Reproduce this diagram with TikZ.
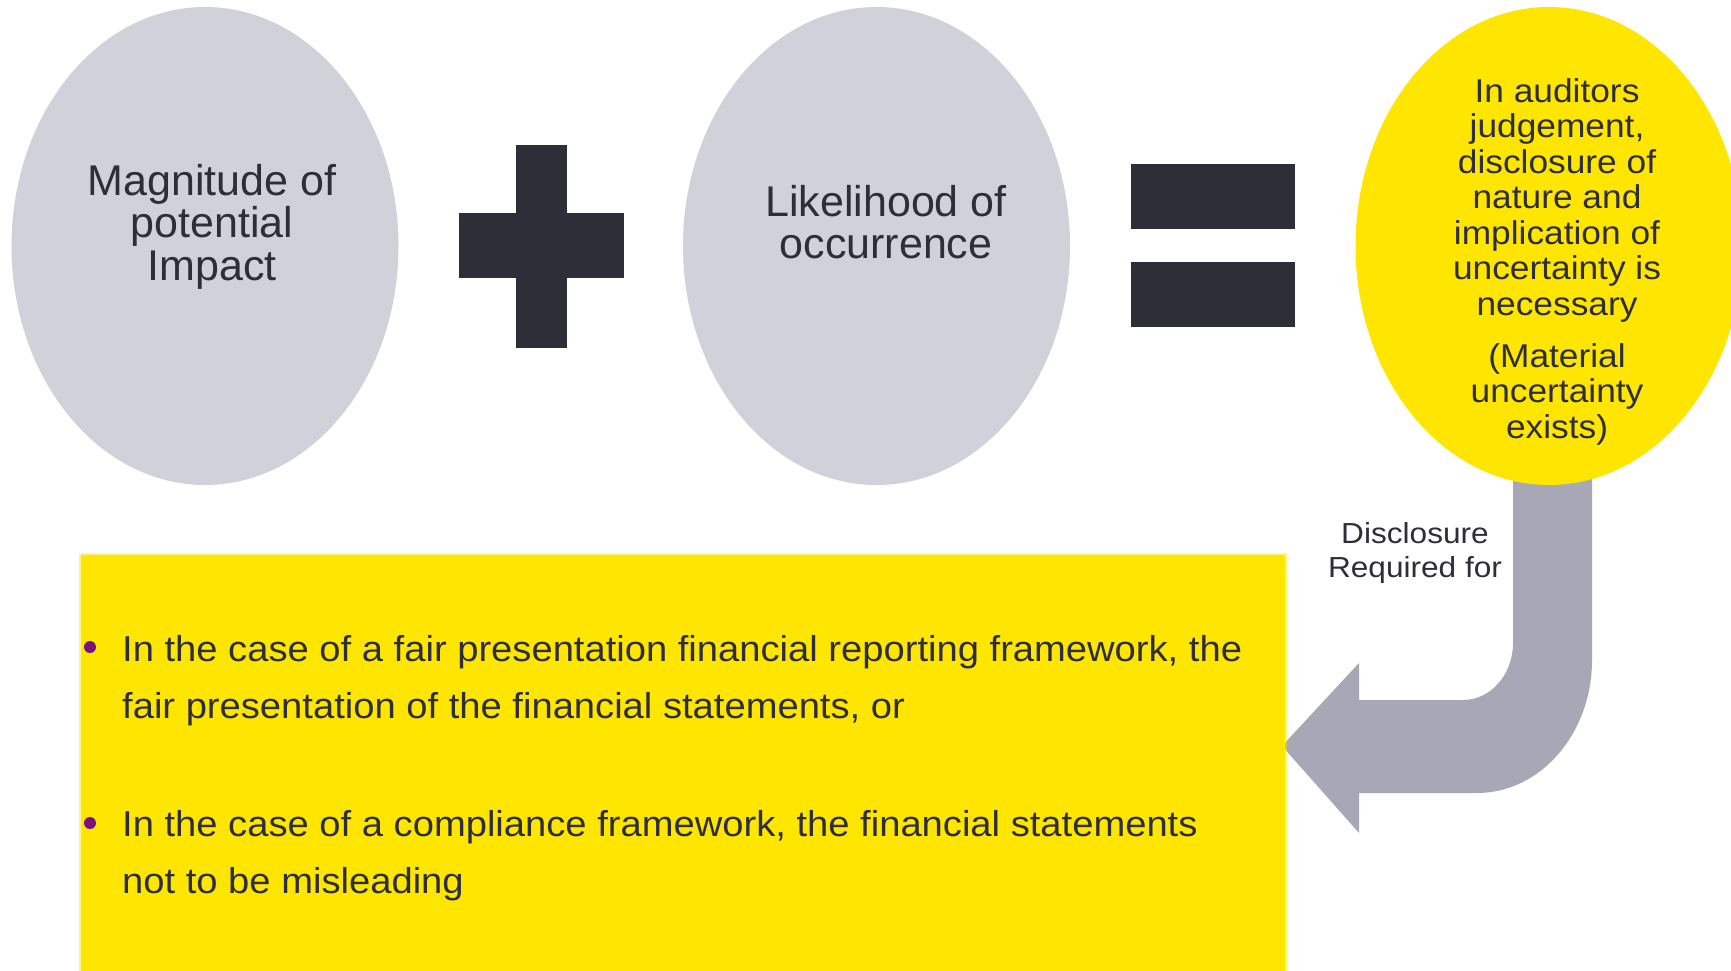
\documentclass[tikz,border=0pt]{standalone}
\usepackage{fontspec}
\setmainfont{Liberation Sans}
\newfontfamily\ovalfont{Liberation Sans}
\newfontfamily\verdictfont{Liberation Sans}[FakeStretch=1.07]
\newfontfamily\notefont{Liberation Sans}[FakeStretch=1.09]
\newfontfamily\listfont{Liberation Sans}[FakeStretch=1.06]
\usetikzlibrary{shapes.geometric}

\definecolor{inkdark}{HTML}{2E2E38}
\definecolor{ovalgrey}{HTML}{D1D1D9}
\definecolor{signyellow}{HTML}{FFE600}
\definecolor{arrowgrey}{HTML}{A7A7B6}
\definecolor{dotpurple}{RGB}{122,16,130}

\begin{document}
\begin{tikzpicture}[x=1pt,y=-1pt,
  oval/.style={ellipse, draw=none, inner sep=0pt,
    minimum width=387pt, minimum height=478pt},
  ovaltext/.style={anchor=north, inner sep=0pt, align=center, text=inkdark,
    font=\ovalfont\fontsize{43}{42.5}\selectfont},
  verdicttext/.style={anchor=north, inner sep=0pt, align=center, text=inkdark,
    font=\verdictfont\fontsize{33}{35.5}\selectfont},
  notetext/.style={anchor=north, inner sep=0pt, align=center, text=inkdark,
    font=\notefont\fontsize{29}{34}\selectfont},
  itemtext/.style={anchor=north west, inner sep=0pt, align=left, text=inkdark,
    font=\listfont\fontsize{36}{57.5}\selectfont},
  dot/.style={circle, fill=dotpurple, inner sep=0pt, minimum size=12pt},
  sign/.style={fill=inkdark},
]
\useasboundingbox (0,0) rectangle (1731,971);
\clip (0,0) rectangle (1731,971);
\fill[white] (0,0) rectangle (1731,971);

% the two factors
\node[oval, fill=ovalgrey] (impact) at (205,246) {};
\node[ovaltext] (impacttext) at (212,164) {Magnitude of\\potential\\Impact};

\node[oval, fill=ovalgrey] (likelihood) at (876.5,246) {};
\node[ovaltext] (likelihoodtext) at (886,185) {Likelihood of\\occurrence};

% plus and equals signs
\fill[sign] (516,145) rectangle (567,348);
\fill[sign] (459,213) rectangle (624,278);
\fill[sign] (1131,164) rectangle (1295,229);
\fill[sign] (1131,262) rectangle (1295,327);

% bent arrow from the conclusion down to the requirements box
\fill[arrowgrey] (1513,450) -- (1513,643)
  .. controls (1513,674.5) and (1490.6,700) .. (1463,700)
  -- (1359,700) -- (1359,663) -- (1282,746) -- (1359,833) -- (1359,793)
  -- (1477,793)
  .. controls (1540.5,793) and (1592,733.4) .. (1592,660)
  -- (1592,450) -- cycle;

% the conclusion
\node[oval, fill=signyellow] (verdict) at (1549,246) {};
\node[verdicttext] (verdicttext) at (1557,78)
  {In auditors\\judgement,\\disclosure of\\nature and\\implication of\\uncertainty is\\necessary\\[16.5pt]
   (Material\\uncertainty\\exists)};

\node[notetext] (note) at (1415,522) {Disclosure\\Required for};

% requirements box with a soft edge
\node[draw=signyellow, draw opacity=0.45, line width=4pt, fill=signyellow,
  minimum width=1204pt, minimum height=430pt, inner sep=0pt,
  anchor=north west] (box) at (79,553) {};

\node[dot] (dotone) at (90,647) {};
\node[itemtext] (itemone) at (122,635)
  {In the case of a fair presentation financial reporting framework, the\\
   fair presentation of the financial statements, or};

\node[dot] (dottwo) at (90,823) {};
\node[itemtext] (itemtwo) at (122,810)
  {In the case of a compliance framework, the financial statements\\
   not to be misleading};
\end{tikzpicture}
\end{document}
